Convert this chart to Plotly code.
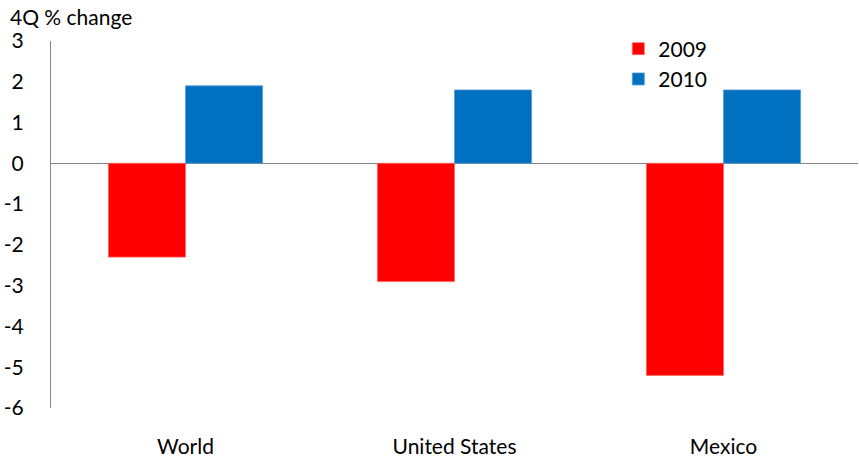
import plotly.graph_objects as go

# data
regions = ["World", "United States", "Mexico"]
growth_2009 = [-2.3, -2.9, -5.2]
growth_2010 = [1.9, 1.8, 1.8]
y_ticks = [3, 2, 1, 0, -1, -2, -3, -4, -5, -6]

font_family = "Lato, 'Open Sans', sans-serif"

fig = go.Figure()
fig.add_trace(go.Bar(
    x=regions, y=growth_2009, name="2009",
    marker=dict(color="#FF0000", line=dict(color="#FF6666", width=0.8)),
))
fig.add_trace(go.Bar(
    x=regions, y=growth_2010, name="2010",
    marker=dict(color="#0070C0", line=dict(color="#5A9BD5", width=0.8)),
))

fig.update_layout(
    width=859, height=466,
    margin=dict(l=51, r=1, t=41, b=58, autoexpand=False),
    paper_bgcolor="white", plot_bgcolor="white",
    barmode="group", bargap=0.427, bargroupgap=0,
    font=dict(family=font_family, size=21, color="black"),
    showlegend=True,
    legend=dict(
        x=0.703, y=1.034, xanchor="left", yanchor="top",
        bgcolor="rgba(0,0,0,0)", font=dict(size=21),
        itemwidth=30, tracegroupgap=0,
    ),
    annotations=[dict(
        text="4Q % change", xref="paper", yref="paper",
        x=-43 / 807, y=1 + 24 / 367, xanchor="left", yanchor="middle",
        showarrow=False, font=dict(size=21),
    )],
)

fig.update_xaxes(
    showline=False, showgrid=False, ticks="",
    ticklabelstandoff=24, automargin=False,
)
fig.update_yaxes(
    range=[-6, 3], tickvals=y_ticks, ticktext=[str(v) for v in y_ticks],
    showgrid=False, ticks="",
    showline=True, linecolor="#868686", linewidth=1.3,
    zeroline=True, zerolinecolor="#868686", zerolinewidth=1.3,
    ticklabelstandoff=22, automargin=False,
)

# drop the default body margin so the figure sits at the window origin
fig.write_html(
    "out.html",
    config={"displayModeBar": False},
    post_script="document.body.style.margin='0';",
)
